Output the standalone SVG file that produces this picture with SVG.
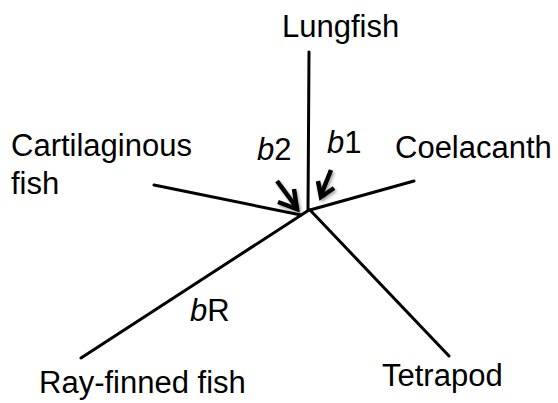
<svg xmlns="http://www.w3.org/2000/svg" width="558" height="403" viewBox="0 0 558 403">
<defs>
<style>
text{font-family:"Liberation Sans",Arial,Helvetica,sans-serif;font-size:31px;fill:#000}
.br{stroke:#000;stroke-width:3;stroke-linecap:round;fill:none}
.ar{stroke:#000;stroke-width:4.5;stroke-linecap:butt;stroke-linejoin:miter;fill:none;filter:url(#sh)}
</style>
<filter id="sh" x="-50%" y="-50%" width="200%" height="200%">
<feDropShadow dx="1.5" dy="2" stdDeviation="1.5" flood-color="#000" flood-opacity="0.35"/>
</filter>
</defs>
<rect width="558" height="403" fill="#fff"/>
<g id="connectors">
<line class="br" x1="309" y1="52" x2="308" y2="210"/>
<line class="br" x1="154" y1="185" x2="301" y2="215"/>
<line class="br" x1="414" y1="181" x2="310" y2="210"/>
<line class="br" x1="81" y1="358" x2="309" y2="210"/>
<line class="br" x1="310" y1="210" x2="449" y2="356"/>
</g>
<g id="arrow-b2">
<line class="ar" x1="277" y1="181" x2="297" y2="208"/>
<polyline class="ar" points="294,189 297,209 278,202"/>
</g>
<g id="arrow-b1">
<line class="ar" x1="331" y1="170" x2="321" y2="195"/>
<polyline class="ar" points="318,181 321,197 334,188"/>
</g>
<g id="node-lungfish"><text x="282" y="37">Lungfish</text></g>
<g id="node-cartilaginous"><text x="11" y="156">Cartilaginous</text><text x="11" y="194">fish</text></g>
<g id="node-coelacanth"><text x="395" y="158">Coelacanth</text></g>
<g id="node-rayfinned"><text x="39" y="393">Ray-finned fish</text></g>
<g id="node-tetrapod"><text x="382" y="386">Tetrapod</text></g>
<g id="labels">
<text x="257" y="160"><tspan font-style="italic">b</tspan>2</text>
<text x="327" y="153"><tspan font-style="italic">b</tspan>1</text>
<text x="190" y="321"><tspan font-style="italic">b</tspan>R</text>
</g>
</svg>
